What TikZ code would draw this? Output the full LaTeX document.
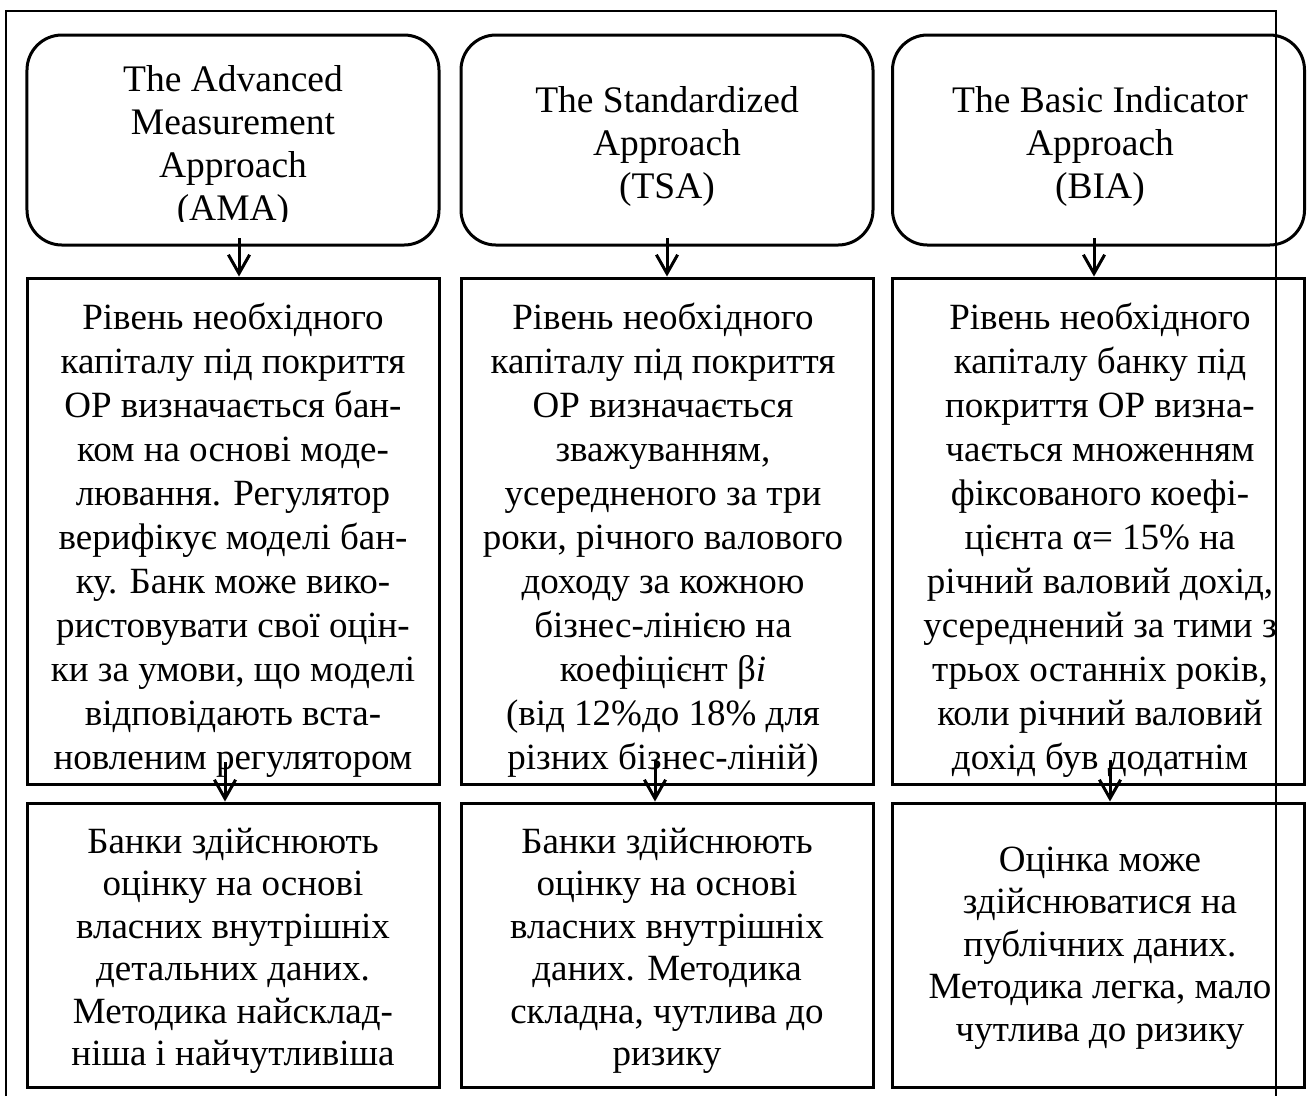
\documentclass[tikz,border=0pt]{standalone}
\usepackage{fontspec}
\setmainfont{Liberation Serif}
\usetikzlibrary{arrows.meta}
\begin{document}
\begin{tikzpicture}[x=0.4pt,y=-0.4pt,
  headbox/.style={draw, line width=1.2pt, rounded corners=14pt, inner sep=0pt,
    minimum width=164.8pt, minimum height=84pt},
  infobox/.style={draw, line width=1.2pt, inner sep=0pt, minimum width=165pt},
  midbox/.style={infobox, minimum height=202.4pt},
  lowbox/.style={infobox, minimum height=113.6pt},
  headtext/.style={align=center, inner sep=0pt, font=\fontsize{15}{17.2}\selectfont},
  midtext/.style={align=center, inner sep=0pt, font=\fontsize{14.8}{17.6}\selectfont},
  lowtext/.style={align=center, inner sep=0pt, font=\fontsize{14.8}{17}\selectfont},
  arr/.style={line width=1.2pt, -{Straight Barb[length=7.5pt,width=8.5pt,line width=1.2pt]}},
  frame/.style={line width=0.8pt}]
\fill[white] (0,0) rectangle (1307,1096);
\useasboundingbox (0,0) rectangle (1307,1096);

% top row: the three approaches
\node[headbox] (ama) at (233,140) {};
\node[headbox] (tsa) at (667,140) {};
\node[headbox] (bia) at (1098.5,140) {};
\begin{scope}
  \clip (27,35) rectangle (440,221);
  \node[headtext] (amaT) at (233,147) {The Advanced\\Measurement\\Approach\\(AMA)};
\end{scope}
\node[headtext] (tsaT) at (667,146) {The Standardized\\Approach\\(TSA)};
\node[headtext] (biaT) at (1100,146) {The Basic Indicator\\Approach\\(BIA)};

% middle row: how the capital requirement is set
\node[midbox] (amaM) at (233.5,531) {};
\node[midbox] (tsaM) at (667.5,531) {};
\node[midbox] (biaM) at (1098.5,531) {};
\node[midtext] (amaMT) at (233,540) {Рівень необхідного\\капіталу під покриття\\ОР визначається бан-\\ком на основі моде-\\лювання. Регулятор\\верифікує моделі бан-\\ку. Банк може вико-\\ристовувати свої оцін-\\ки за умови, що моделі\\відповідають вста-\\новленим регулятором};
\node[midtext] (tsaMT) at (663,540) {Рівень необхідного\\капіталу під покриття\\ОР визначається\\зважуванням,\\усередненого за три\\роки, річного валового\\доходу за кожною\\бізнес-лінією на\\коефіцієнт β\textit{i}\\(від 12\%до 18\% для\\різних бізнес-ліній)};
\begin{scope}
  \clip (893,278) rectangle (1275,784);
  \node[midtext] (biaMT) at (1100,540) {Рівень необхідного\\капіталу банку під\\покриття ОР визна-\\чається множенням\\фіксованого коефі-\\цієнта α= 15\% на\\річний валовий дохід,\\усереднений за тими з\\трьох останніх років,\\коли річний валовий\\дохід був додатнім};
\end{scope}

% bottom row: data and complexity
\node[lowbox] (amaL) at (233.5,945) {};
\node[lowbox] (tsaL) at (667.5,945) {};
\node[lowbox] (biaL) at (1098.5,945) {};
\node[lowtext] (amaLT) at (233,951) {Банки здійснюють\\оцінку на основі\\власних внутрішніх\\детальних даних.\\Методика найсклад-\\ніша і найчутливіша};
\node[lowtext] (tsaLT) at (667,951) {Банки здійснюють\\оцінку на основі\\власних внутрішніх\\даних. Методика\\складна, чутлива до\\ризику};
\node[lowtext] (biaLT) at (1100,948) {Оцінка може\\здійснюватися на\\публічних даних.\\Методика легка, мало\\чутлива до ризику};

% connectors between rows
\coordinate (amaS) at (239,238);
\coordinate (tsaS) at (667,238);
\coordinate (biaS) at (1094,238);
\draw[arr] (amaS) -- (amaS |- amaM.north);
\draw[arr] (tsaS) -- (tsaS |- tsaM.north);
\draw[arr] (biaS) -- (biaS |- biaM.north);
\coordinate (amaR) at (225,762);
\coordinate (tsaR) at (655,760);
\coordinate (biaR) at (1110,760);
\draw[arr] (amaR) -- (amaR |- amaL.north);
\draw[arr] (tsaR) -- (tsaR |- tsaL.north);
\draw[arr] (biaR) -- (biaR |- biaL.north);

% surrounding frame, open at the bottom
\draw[frame] (6,1096) -- (6,11) -- (1276,11) -- (1276,1096);
\end{tikzpicture}
\end{document}
